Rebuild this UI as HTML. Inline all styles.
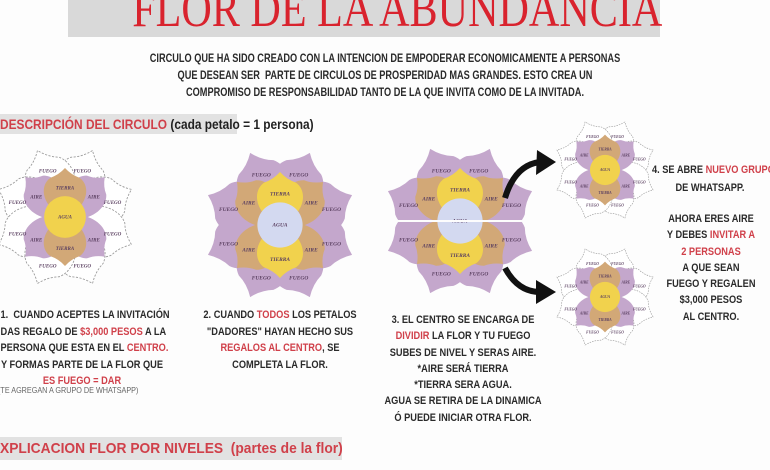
<!DOCTYPE html>
<html><head><meta charset="utf-8"><style>
html,body{margin:0;padding:0;background:#fdfdfd;width:770px;height:470px;overflow:hidden;position:relative;font-family:"Liberation Sans",sans-serif}
.t{position:absolute;text-align:center;font-weight:bold;color:#2a2a2a;white-space:nowrap;transform:scaleX(.84);transform-origin:center top}
.r{color:#d0404a}
</style></head><body>
<div style="position:absolute;left:68px;top:-10px;width:592px;height:47px;background:#d9d9d9"></div>
<div style="position:absolute;left:76px;top:-20px;width:592px;text-align:center;white-space:nowrap;font-family:'Liberation Serif',serif;font-size:52px;color:#d9232e;transform:scaleX(.81);transform-origin:center">FLOR DE LA ABUNDANCIA</div>
<div class="t" style="left:60px;top:51px;width:650px;font-size:11.5px;line-height:17px;transform:scaleX(.8)">CIRCULO QUE HA SIDO CREADO CON LA INTENCION DE EMPODERAR ECONOMICAMENTE A PERSONAS<br>QUE DESEAN SER&nbsp; PARTE DE CIRCULOS DE PROSPERIDAD MAS GRANDES. ESTO CREA UN<br>COMPROMISO DE RESPONSABILIDAD TANTO DE LA QUE INVITA COMO DE LA INVITADA.</div>
<div style="position:absolute;left:0;top:114px;width:237px;height:20px;background:#e2e2e2"></div>
<div style="position:absolute;left:0;top:116px;font-size:14px;white-space:nowrap;transform:scaleX(.85);transform-origin:left;color:#222;font-weight:bold"><span class="r">DESCRIPCIÓN DEL CIRCULO</span> (cada petalo = 1 persona)</div>
<svg width="770" height="470" style="position:absolute;left:0;top:0">
<defs>
<path id="p" d="M0,0 C-36,-18 -44,-62 -24,-80 Q-10,-86 0,-100 Q10,-86 24,-80 C44,-62 36,-18 0,0Z"/>
<g id="fc">
 <g fill="#c4a7cc"><use href="#p" transform="rotate(22.5)"/><use href="#p" transform="rotate(-22.5)"/><use href="#p" transform="rotate(67.5)"/><use href="#p" transform="rotate(-67.5)"/><use href="#p" transform="rotate(112.5)"/><use href="#p" transform="rotate(-112.5)"/><use href="#p" transform="rotate(157.5)"/><use href="#p" transform="rotate(-157.5)"/></g>
 <g fill="#d2a877"><use href="#p" transform="rotate(45) scale(.78)"/><use href="#p" transform="rotate(-45) scale(.78)"/><use href="#p" transform="rotate(135) scale(.78)"/><use href="#p" transform="rotate(-135) scale(.78)"/></g>
 <g fill="#f1d24d"><use href="#p" transform="scale(.85,.68)"/><use href="#p" transform="rotate(180) scale(.85,.68)"/></g>
 <circle r="29" fill="#d3d9f0"/>
 <g font-family="Liberation Serif" font-size="7" font-style="italic" font-weight="bold" fill="#5a3f60" text-anchor="middle">
 <text x="-24" y="-62">FUEGO</text><text x="24" y="-62">FUEGO</text><text x="-66" y="-18">FUEGO</text><text x="66" y="-18">FUEGO</text><text x="-66" y="26">FUEGO</text><text x="66" y="26">FUEGO</text><text x="-24" y="70">FUEGO</text><text x="24" y="70">FUEGO</text>
 <text x="-40" y="-26">AIRE</text><text x="40" y="-26">AIRE</text><text x="-40" y="34">AIRE</text><text x="40" y="34">AIRE</text><text y="-38">TIERRA</text><text y="46">TIERRA</text><text y="2">AGUA</text></g>
</g>
<g id="fo">
 <g fill="#fff" stroke="#999" stroke-width="1.2" stroke-dasharray="3,2"><use href="#p" transform="rotate(22.5)"/><use href="#p" transform="rotate(-22.5)"/><use href="#p" transform="rotate(67.5)"/><use href="#p" transform="rotate(-67.5)"/><use href="#p" transform="rotate(112.5)"/><use href="#p" transform="rotate(-112.5)"/><use href="#p" transform="rotate(157.5)"/><use href="#p" transform="rotate(-157.5)"/></g>
 <g fill="#c4a7cc"><use href="#p" transform="rotate(45) scale(.78)"/><use href="#p" transform="rotate(-45) scale(.78)"/><use href="#p" transform="rotate(135) scale(.78)"/><use href="#p" transform="rotate(-135) scale(.78)"/></g>
 <g fill="#d2a877"><use href="#p" transform="scale(.85,.68)"/><use href="#p" transform="rotate(180) scale(.85,.68)"/></g>
 <circle r="29" fill="#f1d24d"/>
 <g font-family="Liberation Serif" font-size="7" font-style="italic" font-weight="bold" fill="#5a3f60" text-anchor="middle">
 <text x="-24" y="-62">FUEGO</text><text x="24" y="-62">FUEGO</text><text x="-66" y="-18">FUEGO</text><text x="66" y="-18">FUEGO</text><text x="-66" y="26">FUEGO</text><text x="66" y="26">FUEGO</text><text x="-24" y="70">FUEGO</text><text x="24" y="70">FUEGO</text>
 <text x="-40" y="-26">AIRE</text><text x="40" y="-26">AIRE</text><text x="-40" y="34">AIRE</text><text x="40" y="34">AIRE</text><text y="-38">TIERRA</text><text y="46">TIERRA</text><text y="2">AGUA</text></g>
</g>
</defs>
<use href="#fo" transform="translate(65,217) scale(.72)"/>
<use href="#fc" transform="translate(280,225) scale(.78)"/>
<use href="#fc" transform="translate(460,221) scale(.78)"/>
<rect x="380" y="220" width="160" height="2" fill="#fdfdfd"/>
<use href="#fo" transform="translate(605,170) scale(.52)"/>
<use href="#fo" transform="translate(605,297) scale(.52)"/>
<path d="M505,198 Q515,165 540,162" fill="none" stroke="#111" stroke-width="6"/>
<polygon points="537,150 556,162 536,175" fill="#111"/>
<path d="M505,268 Q518,292 540,292" fill="none" stroke="#111" stroke-width="6"/>
<polygon points="536,280 556,292 536,304" fill="#111"/>
</svg>
<div class="t" style="left:-15px;top:307px;width:194px;font-size:11px;line-height:16.5px">1.&nbsp; CUANDO ACEPTES LA INVITACIÓN<br>DAS REGALO DE <span class="r">$3,000 PESOS</span> A LA<br>PERSONA QUE ESTA EN EL <span class="r">CENTRO.</span><br>Y FORMAS PARTE DE LA FLOR QUE<br><span class="r">ES FUEGO = DAR</span></div>
<div style="position:absolute;left:-2px;top:385px;font-size:8.5px;color:#666;white-space:nowrap;transform:scaleX(.85);transform-origin:left">(TE AGREGAN A GRUPO DE WHATSAPP)</div>
<div class="t" style="left:180px;top:307px;width:200px;font-size:11px;line-height:16.5px">2. CUANDO <span class="r">TODOS</span> LOS PETALOS<br>"DADORES" HAYAN HECHO SUS<br><span class="r">REGALOS AL CENTRO</span>, SE<br>COMPLETA LA FLOR.</div>
<div class="t" style="left:358px;top:312px;width:210px;font-size:11px;line-height:16.3px">3. EL CENTRO SE ENCARGA DE<br><span class="r">DIVIDIR</span> LA FLOR Y TU FUEGO<br>SUBES DE NIVEL Y SERAS AIRE.<br>*AIRE SERÁ TIERRA<br>*TIERRA SERA AGUA.<br>AGUA SE RETIRA DE LA DINAMICA<br>Ó PUEDE INICIAR OTRA FLOR.</div>
<div style="position:absolute;left:652px;top:164px;font-size:11px;font-weight:bold;color:#2a2a2a;white-space:nowrap;transform:scaleX(.84);transform-origin:left">4. SE ABRE <span class="r">NUEVO GRUPO</span></div>
<div class="t" style="left:640px;top:180px;width:140px;font-size:11px;line-height:16.5px">DE WHATSAPP.</div>
<div class="t" style="left:641px;top:211px;width:140px;font-size:11px;line-height:16.3px">AHORA ERES AIRE<br>Y DEBES <span class="r">INVITAR A</span><br><span class="r">2 PERSONAS</span><br>A QUE SEAN<br>FUEGO Y REGALEN<br>$3,000 PESOS<br>AL CENTRO.</div>
<div style="position:absolute;left:0;top:437px;width:342px;height:23px;background:#e2e2e2"></div>
<div style="position:absolute;left:0;top:440px;font-size:15px;white-space:nowrap;font-weight:bold;color:#d0404a;transform:scaleX(.92);transform-origin:left">XPLICACION FLOR POR NIVELES&nbsp; (partes de la flor)</div>
</body></html>
